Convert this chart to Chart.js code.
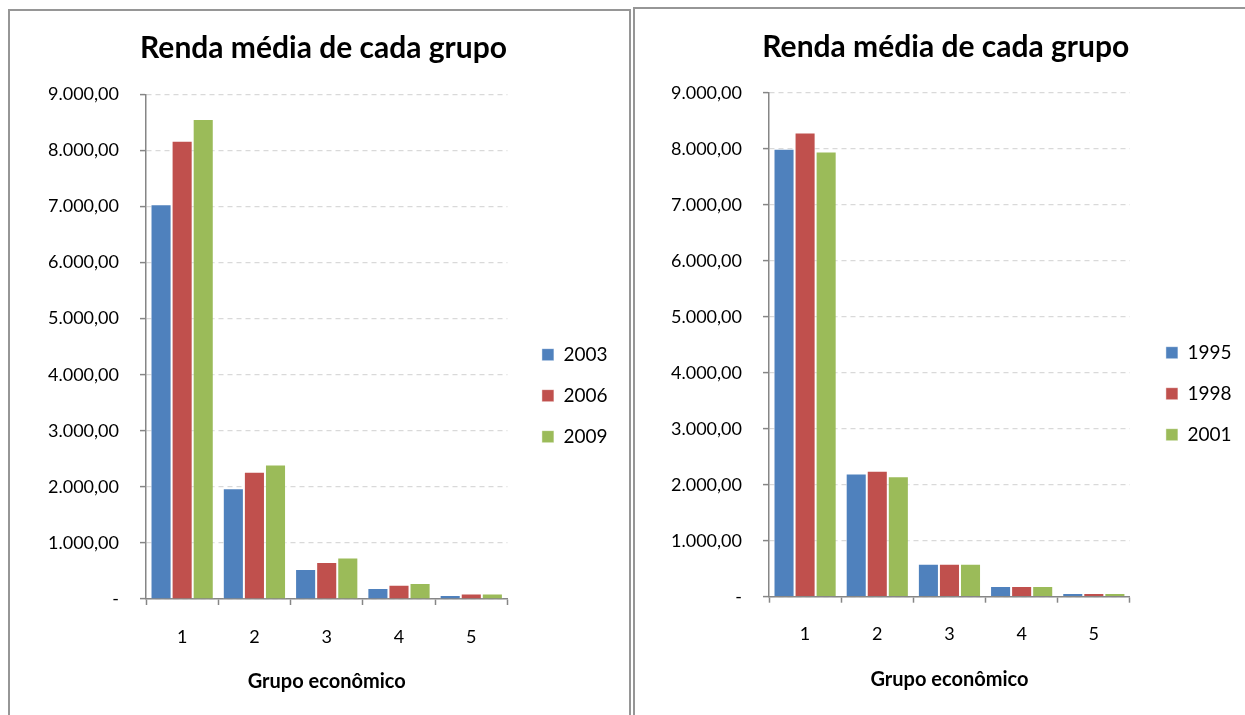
<!DOCTYPE html>
<html>
<head>
<meta charset="utf-8">
<script src="https://cdn.jsdelivr.net/npm/chart.js"></script>
<style>
  body { margin: 0; background: #fff; width: 1245px; height: 715px; overflow: hidden; position: relative; }
  .panel { position: absolute; border: 2px solid #969696; background: #fff; }
  #panelLeft { left: 8px; top: 9px; width: 619px; height: 730px; }
  #panelRight { left: 633px; top: 7px; width: 640px; height: 730px; }
  canvas { position: absolute; }
  #chartLeft { left: 10px; top: 12px; }
  #chartRight { left: 636px; top: 10px; }
</style>
</head>
<body>
<div class="panel" id="panelLeft"></div>
<div class="panel" id="panelRight"></div>
<canvas id="chartLeft" width="618" height="703"></canvas>
<canvas id="chartRight" width="609" height="705"></canvas>
<script>
// data
const groups = ['1', '2', '3', '4', '5'];

const yearsLeft = ['2003', '2006', '2009'];
const renda2003 = [7040, 1975, 536, 196, 71];
const renda2006 = [8170, 2270, 660, 255, 98];
const renda2009 = [8560, 2400, 740, 285, 100];

const yearsRight = ['1995', '1998', '2001'];
const renda1995 = [8000, 2200, 590, 190, 65];
const renda1998 = [8290, 2250, 590, 190, 65];
const renda2001 = [7950, 2150, 590, 190, 65];

const yTickLabels = ['-', '1.000,00', '2.000,00', '3.000,00', '4.000,00',
  '5.000,00', '6.000,00', '7.000,00', '8.000,00', '9.000,00'];

const chartTitle = 'Renda média de cada grupo';
const xTitle = 'Grupo econômico';
const colors = ['#4F81BD', '#C0504D', '#9BBB59'];
const family = 'Lato, "Open Sans", sans-serif';

// moves the legend next to the plot like excel does
const legendShift = {
  id: 'legendShift',
  afterLayout(chart, args, opts) {
    const lg = chart.legend;
    const w = lg.width;
    lg.left = chart.chartArea.right + opts.gap;
    lg.right = lg.left + w;
    lg.top += opts.dy;
    lg.bottom += opts.dy;
  }
};

function makeChart(id, years, series, g) {
  let datasets = [];
  for (let i = 0; i < years.length; i++) {
    datasets.push({
      label: years[i],
      data: series[i],
      backgroundColor: colors[i],
      borderColor: 'rgba(255,255,255,0.45)',
      borderWidth: 1,
      categoryPercentage: 0.875,
      barPercentage: 1
    });
  }

  return new Chart(document.getElementById(id), {
    type: 'bar',
    data: { labels: groups, datasets: datasets },
    options: {
      responsive: false,
      animation: false,
      layout: { padding: { left: g.padLeft, right: g.padRight, top: 0, bottom: 0 } },
      plugins: {
        title: {
          display: true,
          text: chartTitle,
          color: '#000',
          font: { family: family, size: 30, weight: 'bold' },
          padding: { top: g.titleTop, bottom: g.titleBottom }
        },
        legend: {
          position: 'right',
          fullSize: false,
          labels: {
            boxWidth: 12,
            boxHeight: 12,
            padding: 22,
            color: '#000',
            font: { family: family, size: 19 }
          }
        },
        legendShift: { gap: g.legendGap, dy: g.legendDy },
        tooltip: { enabled: false }
      },
      scales: {
        x: {
          grid: { drawOnChartArea: false, tickLength: 6, tickColor: '#868686', tickWidth: 1.5 },
          border: { color: '#868686', width: 1.5 },
          ticks: { color: '#000', font: { family: family, size: 18 }, padding: g.xTickPad },
          title: {
            display: true,
            text: xTitle,
            color: '#000',
            font: { family: family, size: 20, weight: 'bold' },
            padding: { top: 0, bottom: g.xTitleBottom }
          },
          afterFit: function (s) { s.height = g.xHeight; }
        },
        y: {
          min: 0,
          max: 9000,
          ticks: {
            stepSize: 1000,
            color: '#000',
            font: { family: family, size: 18 },
            padding: 21,
            callback: function (v, i) { return yTickLabels[i]; }
          },
          grid: { color: '#d9d9d9', lineWidth: 1.2, tickLength: 6, tickColor: '#868686', tickWidth: 1.5 },
          border: { color: '#868686', width: 1.5, dash: [5, 4] },
          afterFit: function (s) { s.width = g.yWidth; }
        }
      }
    },
    plugins: [legendShift]
  });
}

makeChart('chartLeft', yearsLeft, [renda2003, renda2006, renda2009], {
  padLeft: 32, padRight: 23, titleTop: 18, titleBottom: 28.3,
  yWidth: 104, xHeight: 116, xTickPad: 21, xTitleBottom: 21,
  legendGap: 12.5, legendDy: 49
});

makeChart('chartRight', yearsRight, [renda1995, renda1998, renda2001], {
  padLeft: 28, padRight: 17.5, titleTop: 19, titleBottom: 27.7,
  yWidth: 105, xHeight: 118.3, xTickPad: 20.5, xTitleBottom: 23,
  legendGap: 14, legendDy: 49
});
</script>
</body>
</html>
